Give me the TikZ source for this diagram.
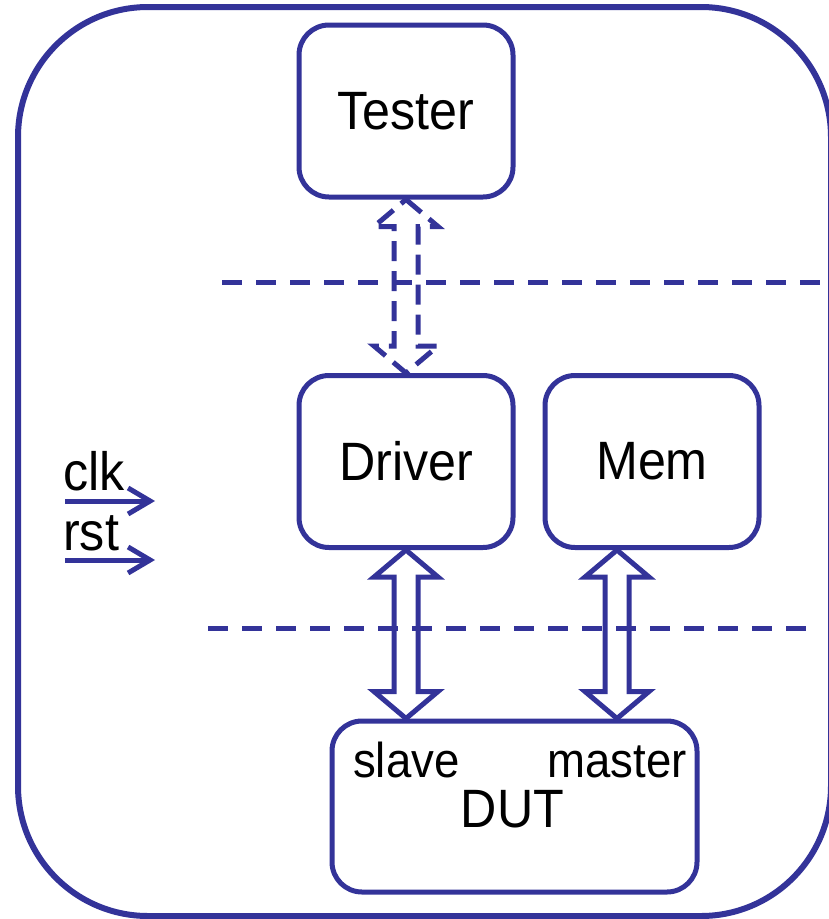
\documentclass[tikz,border=0pt]{standalone}
\usepackage{fontspec}
\setmainfont{Liberation Sans}[FakeStretch=0.93]
\usetikzlibrary{arrows.meta,calc}
\definecolor{navy}{RGB}{51,51,153}

% hollow double-headed arrow between two vertically aligned points
\newcommand\hollowarrow[3][]{%
  \draw[harrow,#1] let \p1=(#2), \p2=(#3) in
    (\x1,\y1) -- (\x1+32pt,\y1-27pt) -- (\x1+12pt,\y1-27pt)
    -- (\x1+12pt,\y2+27pt) -- (\x1+32pt,\y2+27pt) -- (\x1,\y2)
    -- (\x1-32pt,\y2+27pt) -- (\x1-12pt,\y2+27pt)
    -- (\x1-12pt,\y1-27pt) -- (\x1-32pt,\y1-27pt) -- cycle;}

\begin{document}
\begin{tikzpicture}[x=1pt,y=-1pt,
  frame/.style={draw=navy,line width=6pt,rounded corners=130pt,inner sep=0pt},
  block/.style={draw=navy,line width=5pt,rounded corners=30pt,
    minimum width=214pt,minimum height=172pt,inner sep=0pt,
    font=\fontsize{54}{62}\selectfont},
  label/.style={inner sep=0pt,font=\fontsize{54}{62}\selectfont},
  small/.style={inner sep=0pt,font=\fontsize{49}{57}\selectfont},
  harrow/.style={draw=navy,line width=5pt,line join=miter},
  sep/.style={draw=navy,line width=5pt,dash pattern=on 20pt off 14pt},
  sig/.style={draw=navy,line width=5pt,-{Straight Barb[length=22pt,width=26pt]}}]
  \useasboundingbox (0,0) rectangle (829,919);

  % surrounding environment
  \node[frame,minimum width=813pt,minimum height=909pt] (env) at (424.5,461.5) {};

  % blocks
  \node[block] (tester) at (406,111) {Tester};
  \node[block] (driver) at (406,461.5) {Driver};
  \node[block] (mem) at (652,461.5) {Mem};
  \node[block,minimum width=365pt,minimum height=171pt] (dut) at (514.5,806.5) {};
  \node[small,anchor=base west] (slave) at (353,777) {slave};
  \node[small,anchor=base east] (master) at (687,777) {master};
  \node[label,anchor=base] (duttxt) at (512.5,827) {DUT};

  % layer separators
  \coordinate (s1a) at (222,282);
  \coordinate (s1b) at (832,282);
  \coordinate (s2a) at (208,628);
  \coordinate (s2b) at (808,628);
  \draw[sep] (s1a) -- (s1b);
  \draw[sep] (s2a) -- (s2b);

  % interfaces
  \hollowarrow[dash pattern=on 20pt off 10pt]{tester.south}{driver.north}
  \hollowarrow{driver.south}{driver.south |- dut.north}
  \coordinate (mport) at ([xshift=-35pt]mem.south);
  \hollowarrow{mport}{mport |- dut.north}

  % clock and reset inputs
  \node[label,anchor=base west] (clk) at (63,490) {clk};
  \node[label,anchor=base west] (rst) at (63,550) {rst};
  \coordinate (clkS) at (65,501);
  \coordinate (clkE) at (155,501);
  \coordinate (rstS) at (65,560);
  \coordinate (rstE) at (155,560);
  \draw[sig] (clkS) -- (clkE);
  \draw[sig] (rstS) -- (rstE);
\end{tikzpicture}
\end{document}
